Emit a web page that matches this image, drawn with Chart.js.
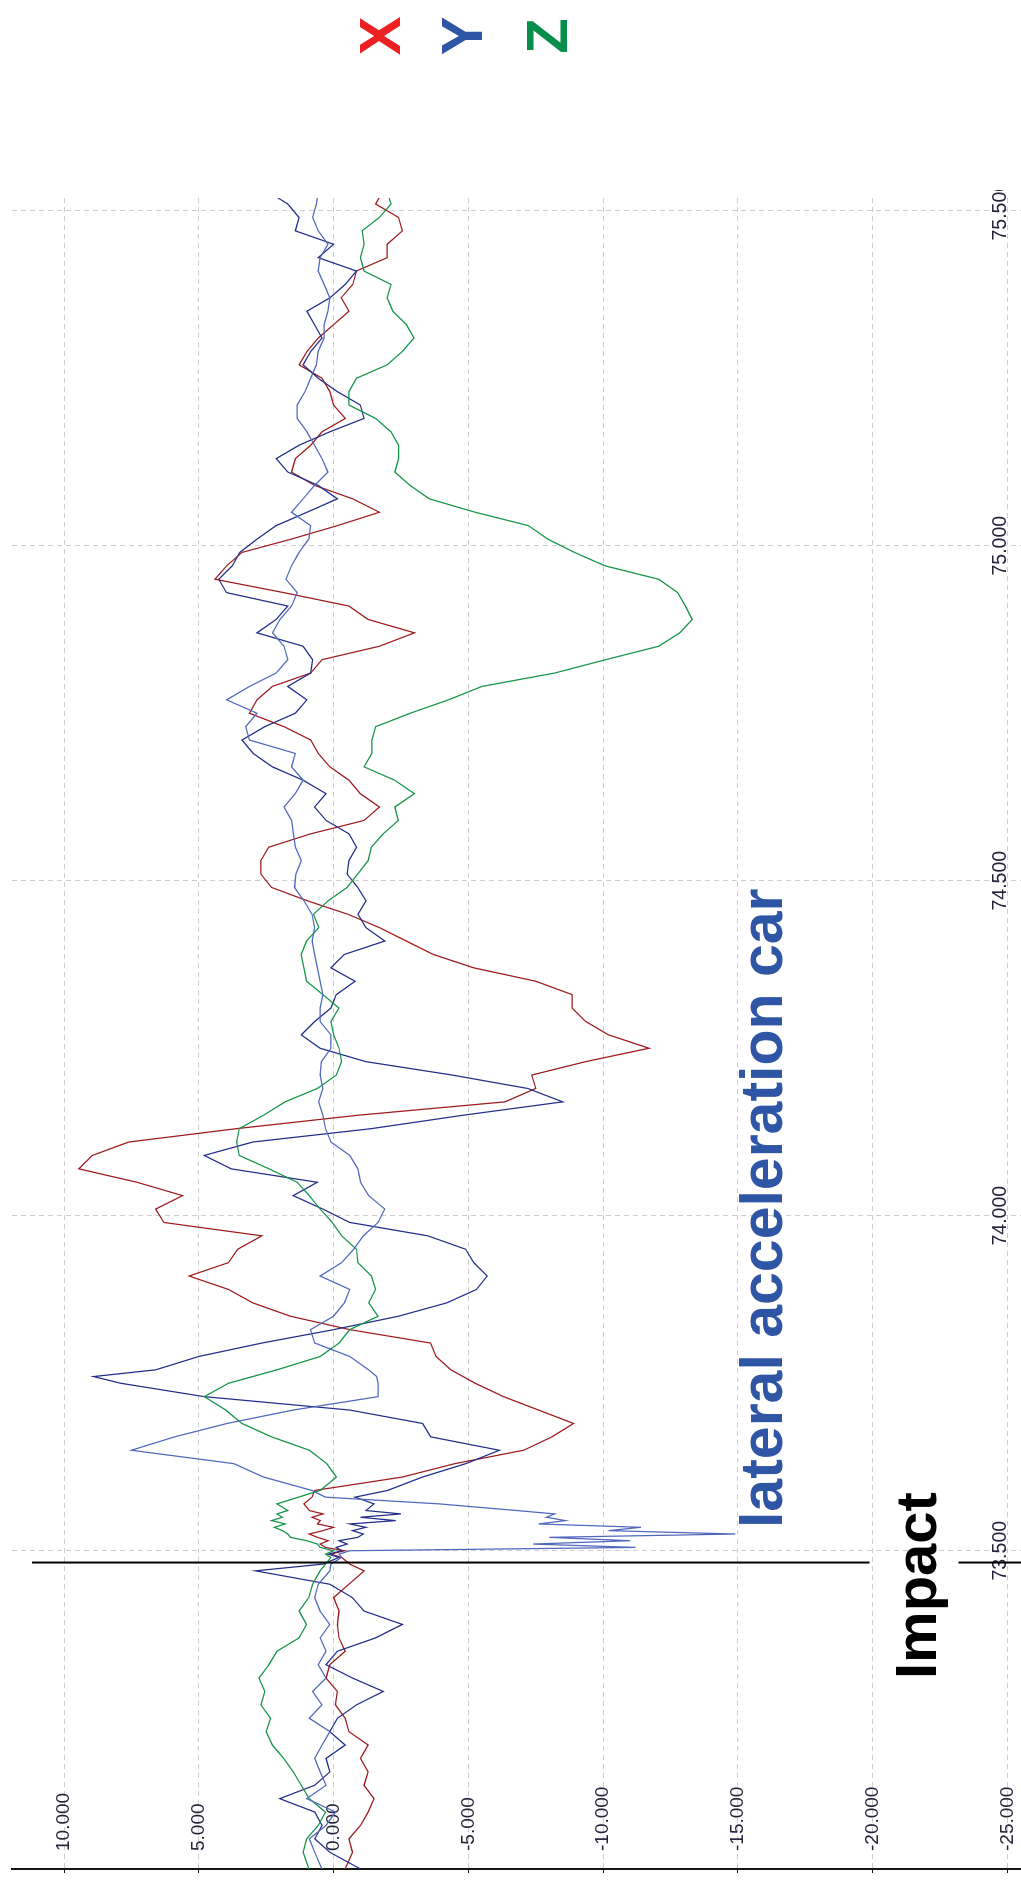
<!DOCTYPE html>
<html>
<head>
<meta charset="utf-8">
<title>Acceleration around impact</title>
<script src="https://cdn.jsdelivr.net/npm/chart.js@4.4.1/dist/chart.umd.min.js"></script>
<style>
  html, body { margin: 0; padding: 0; background: #ffffff; overflow: hidden; }
  /* the whole figure is laid out landscape and turned a quarter turn counter-clockwise */
  #page {
    position: absolute; left: 0; top: 0;
    width: 1881px; height: 1021px;
    transform-origin: 0 0;
    transform: translate(0px, 1881px) rotate(-90deg);
    background: #ffffff;
  }
  #plot { position: absolute; left: 0; top: 0; }
  .key {
    position: absolute; left: 1815px; width: 60px; text-align: center;
    font: bold 58px 'Liberation Sans', Arial, sans-serif; line-height: 58px;
  }
</style>
</head>
<body>
<div id="page">
  <canvas id="plot" width="1691" height="1021"></canvas>
  <div class="key" style="top:351px;color:#ed2024">X</div>
  <div class="key" style="top:433px;color:#2e55a6">Y</div>
  <div class="key" style="top:518px;color:#078e4a">Z</div>
</div>
<script>
// time stamps in seconds (shared by all channels)
const TIME = [
  73.025, 73.05, 73.07, 73.09, 73.11, 73.13, 73.15, 73.17, 73.19, 73.21, 73.23, 73.25,
  73.27, 73.29, 73.31, 73.33, 73.35, 73.37, 73.39, 73.41, 73.43, 73.45, 73.47,
  73.48, 73.49, 73.495, 73.50, 73.505, 73.51, 73.515, 73.52, 73.525, 73.53, 73.535,
  73.54, 73.545, 73.55, 73.555, 73.56, 73.57, 73.58, 73.59,
  73.61, 73.63, 73.65, 73.67, 73.69, 73.71, 73.73, 73.75, 73.76, 73.77, 73.79,
  73.81, 73.83, 73.85, 73.87, 73.89, 73.91, 73.93, 73.95, 73.97, 73.99,
  74.01, 74.03, 74.05, 74.07, 74.09, 74.11, 74.13, 74.15, 74.17, 74.19, 74.21, 74.23, 74.25,
  74.27, 74.29, 74.31, 74.33, 74.35, 74.37, 74.39, 74.41, 74.43, 74.45, 74.47, 74.49, 74.51,
  74.53, 74.55, 74.57, 74.59, 74.61, 74.63, 74.65, 74.67, 74.69, 74.71, 74.73, 74.75,
  74.77, 74.79, 74.81, 74.83, 74.85, 74.87, 74.89, 74.91, 74.93, 74.95, 74.97, 74.99,
  75.01, 75.03, 75.05, 75.07, 75.09, 75.11, 75.13, 75.15, 75.17, 75.19, 75.21, 75.23, 75.25,
  75.27, 75.29, 75.31, 75.33, 75.35, 75.37, 75.39, 75.41, 75.43, 75.45, 75.47, 75.49, 75.51, 75.52
];

// X channel
const ACC_X = [
  -0.43, -0.7, -0.57, -1.0, -1.28, -1.5, -1.13, -1.28, -1.0, -1.28, -0.57, -0.43,
  -0.07, -0.14, 0.28, 0.14, -0.43, -0.2, -0.14, -0.2, 0.0, -0.57, -1.13,
  -0.6, -0.3, 0.1, -0.4, 0.3, 0.5, 0.2, 0.6, 0.9, 0.4, 0.0,
  0.6, 0.5, 0.8, 0.4, 0.9, 1.1, 0.8, 0.7,
  -2.55, -4.5, -7.05, -8.1, -8.9, -7.6, -6.3, -5.25, -4.8, -4.35, -3.8,
  -3.6, -0.6, 1.6, 3.0, 3.9, 5.36, 3.9, 3.56, 2.66, 6.3,
  6.6, 5.6, 7.3, 9.45, 8.95, 7.6, 3.6, -0.9, -6.36, -7.5, -7.35, -9.35, -11.7,
  -10.2, -9.35, -8.85, -8.85, -7.5, -5.2, -3.7, -2.7, -1.7, -0.53, 0.97, 2.3, 2.7,
  2.7, 2.41, 0.85, -1.13, -1.7, -0.99, -0.57, 0.14, 0.57, 0.85, 1.84, 3.12,
  2.84, 2.27, 0.85, 0.43, -1.7, -3.0, -1.28, -0.57, 1.84, 4.4, 3.97, 3.4,
  1.56, -0.14, -1.7, -0.71, 0.7, 1.56, 1.42, 0.85, 0.43, -0.43, 0.0, 0.14, 0.43,
  1.28, 0.99, 0.57, 0.0, -0.57, -0.28, -0.71, -0.85, -1.99, -1.99, -2.55, -2.41, -1.56, -1.7
];

// Y channel
const ACC_Y = [
  -1.0, 0.14, 0.7, 0.43, 0.7, 2.0, 0.7, 0.14, 0.28, -0.43, 0.14, -0.14,
  -0.85, -1.84, -0.7, 0.28, -0.14, -1.56, -2.55, -1.13, -0.7, 0.14, 2.9,
  0.4, -0.2, 0.2, -0.3, -0.1, -0.5, -0.2, -0.9, -1.1, -0.7, -1.2,
  -0.6, -2.3, -1.0, -2.5, -1.2, -1.5, -0.8, -2.0,
  -3.3, -4.9, -6.15, -3.6, -3.3, -0.6, 4.8, 7.9, 8.9, 6.6, 5.0,
  2.66, 0.0, -2.4, -4.2, -5.3, -5.7, -5.2, -4.9, -3.5, -0.6,
  0.4, 1.5, 0.6, 3.8, 4.8, 3.0, -1.4, -4.8, -8.5, -7.2, -4.4, -1.2, 0.5,
  1.2, 0.7, 0.1, -0.1, -0.8, 0.1, -0.4, -1.9, -1.2, -0.9, -1.2, -0.9, -0.5,
  -0.57, -0.85, -0.57, 0.28, 0.71, 0.28, 1.13, 2.27, 2.98, 3.4, 2.55, 1.42,
  0.99, 1.7, 0.85, 0.78, 1.13, 2.84, 2.13, 1.7, 3.97, 4.26, 3.76, 3.48,
  2.84, 2.13, 0.99, -0.14, 0.57, 1.7, 2.13, 1.28, 0.14, -1.13, -0.99, -0.14, 0.57,
  1.13, 0.85, 0.43, 0.71, 0.99, 0.14, -0.43, -0.85, 0.57, 0.0, 1.42, 1.28, 1.7, 2.1
];

// Z channel
const ACC_Z = [
  0.92, 1.13, 1.0, 0.57, 0.3, 0.9, 1.2, 1.5, 1.85, 2.27, 2.5, 2.34,
  2.7, 2.55, 2.77, 2.4, 2.1, 1.28, 1.0, 1.28, 0.92, 0.78, 0.5,
  0.3, 0.1, 0.3, 0.0, 0.5, 0.6, 1.0, 1.6, 1.7, 1.9, 2.2,
  1.8, 2.3, 1.9, 2.1, 1.7, 2.1, 1.3, 0.5,
  -0.1, 0.25, 0.9, 2.3, 3.4, 4.0, 4.8, 3.9, 3.0, 2.1, 0.5,
  -0.2, -0.6, -1.65, -1.3, -1.56, -1.4, -0.9, -0.85, -0.3, 0.05,
  0.5, 0.9, 1.35, 2.4, 3.5, 3.6, 3.5, 2.6, 1.8, 0.6, -0.1, -0.3, -0.2,
  0.0, 0.1, -0.2, 0.4, 1.0, 1.1, 1.2, 1.0, 0.55, 0.75, 0.2, -0.5, -0.9,
  -1.28, -1.4, -1.84, -2.4, -2.27, -3.0, -2.27, -1.13, -1.42, -1.42, -1.56, -2.84,
  -4.26, -5.5, -8.2, -10.1, -12.06, -12.84, -13.3, -13.05, -12.77, -12.06, -10.07, -8.94,
  -7.94, -7.23, -5.25, -3.55, -2.84, -2.27, -2.41, -2.41, -2.13, -1.56, -0.57, -0.57, -0.85,
  -1.99, -2.55, -2.98, -2.7, -2.2, -1.99, -2.13, -1.13, -0.99, -1.13, -1.06, -1.7, -2.13, -2.05
];

// lateral acceleration of the car
const LATERAL_CAR = [
  0.43, 0.7, 0.9, 0.28, -0.07, 1.0, 0.28, 0.5, 0.7, 0.43, 0.14, 0.9,
  0.43, 0.78, 0.28, 0.57, 0.28, 0.5, 0.14, 0.5, 0.7, 0.57, 0.14,
  0.1, -0.3, -0.2, -0.6, -11.2, -7.4, -11.0, -8.0, -14.9, -10.2, -11.4,
  -7.6, -8.6, -7.9, -8.2, -6.8, -3.9, 0.3, 0.8,
  2.6, 3.7, 7.5, 5.9, 3.95, 1.5, -1.65, -1.65, -1.6, -1.3, -0.6,
  0.7, 0.86, 0.0, -0.4, -0.6, 0.5, -0.3, -0.75, -1.1, -1.65,
  -1.9, -1.3, -1.0, -0.9, -0.6, 0.1, 0.3, 0.4, 0.55, 0.4, 0.5, 0.45, 0.1,
  0.1, 0.5, 0.5, 0.4, 0.5, 0.6, 0.7, 0.8, 0.7, 0.8, 1.1, 1.45, 1.4,
  1.2, 1.42, 1.49, 1.56, 1.84, 1.42, 1.13, 1.56, 1.42, 3.12, 3.26, 2.84,
  3.97, 3.12, 2.13, 1.7, 1.84, 2.27, 1.99, 1.56, 1.35, 1.77, 1.56, 1.28,
  0.92, 0.85, 1.56, 1.13, 0.71, 0.21, 0.43, 0.71, 0.99, 1.35, 1.35, 1.06, 0.85,
  0.64, 0.57, 0.35, 0.35, 0.21, 0.14, 0.35, 0.57, 0.5, 0.21, 0.57, 0.78, 0.64, 0.6
];

// axis ticks
const TIME_TICKS = [73.5, 74.0, 74.5, 75.0, 75.5];
const VALUE_TICKS = [10, 5, 0, -5, -10, -15, -20, -25];

// impact marker: a vertical rule, interrupted where its caption sits
const IMPACT_TIME = 73.4824;
const IMPACT_RULE = [11.19, -19.88, null, -23.18, -25.5];
const IMPACT_CAPTION = { text: 'Impact', t: 73.3085, v: -22.33 };
const LATERAL_CAPTION = { text: 'lateral acceleration car', t: 73.5339, v: -16.65 };

const TICK_FONT = "'Liberation Sans', Arial, sans-serif";

function series(values) {
  return TIME.map((t, i) => ({ x: t, y: values[i] }));
}

const captions = {
  id: 'captions',
  afterDatasetsDraw(chart) {
    const { ctx, scales: { x, y } } = chart;
    ctx.save();
    ctx.textAlign = 'left';
    ctx.textBaseline = 'alphabetic';
    ctx.font = "bold 58px 'Liberation Sans', Arial, sans-serif";
    ctx.fillStyle = '#000000';
    ctx.fillText(IMPACT_CAPTION.text, x.getPixelForValue(IMPACT_CAPTION.t), y.getPixelForValue(IMPACT_CAPTION.v));
    ctx.font = "bold 59px 'Liberation Sans', Arial, sans-serif";
    ctx.fillStyle = '#2f55a5';
    ctx.fillText(LATERAL_CAPTION.text, x.getPixelForValue(LATERAL_CAPTION.t), y.getPixelForValue(LATERAL_CAPTION.v));
    ctx.restore();
  }
};

const lineStyle = { borderWidth: 1.25, pointRadius: 0, tension: 0, fill: false };

new Chart(document.getElementById('plot'), {
  type: 'line',
  data: {
    datasets: [
      { label: 'Impact', data: IMPACT_RULE.map(v => ({ x: IMPACT_TIME, y: v })),
        borderColor: '#000000', borderWidth: 2, pointRadius: 0, spanGaps: false },
      Object.assign({ label: 'lateral acceleration car', data: series(LATERAL_CAR), borderColor: '#4f67bc' }, lineStyle),
      Object.assign({ label: 'Z', data: series(ACC_Z), borderColor: '#149446' }, lineStyle),
      Object.assign({ label: 'Y', data: series(ACC_Y), borderColor: '#222e8a' }, lineStyle),
      Object.assign({ label: 'X', data: series(ACC_X), borderColor: '#9e1b1d' }, lineStyle)
    ]
  },
  options: {
    responsive: false,
    animation: false,
    devicePixelRatio: 1,
    layout: { padding: { left: 0, right: 8, top: 12, bottom: 0 } },
    plugins: { legend: { display: false }, tooltip: { enabled: false } },
    scales: {
      x: {
        type: 'linear',
        position: 'bottom',
        min: 73.025,
        max: 75.519,
        afterBuildTicks: s => { s.ticks = TIME_TICKS.map(v => ({ value: v })); },
        afterFit: s => { s.height = 0; s.paddingLeft = 0; s.paddingRight = 0; },
        border: { display: false, dash: [5, 4] },
        grid: { color: '#cdcdcd', lineWidth: 1, drawTicks: false },
        ticks: {
          mirror: true,
          padding: 9,
          maxRotation: 0,
          autoSkip: false,
          color: '#23233a',
          font: { family: TICK_FONT, size: 19.5 },
          callback: v => Number(v).toFixed(3)
        }
      },
      y: {
        type: 'linear',
        position: 'left',
        min: -25.5,
        max: 11.93,
        afterBuildTicks: s => { s.ticks = VALUE_TICKS.map(v => ({ value: v })); },
        afterFit: s => { s.width = 12; s.paddingTop = 0; s.paddingBottom = 0; },
        border: { display: true, color: '#151515', width: 2, dash: [5, 4] },
        grid: { color: '#cdcdcd', lineWidth: 1, drawTicks: true, tickLength: 4, tickColor: '#151515', tickWidth: 1 },
        ticks: {
          mirror: true,
          padding: 18,
          autoSkip: false,
          color: '#23233a',
          font: { family: TICK_FONT, size: 19 },
          callback: v => Number(v).toFixed(3)
        }
      }
    }
  },
  plugins: [captions]
});
</script>
</body>
</html>
